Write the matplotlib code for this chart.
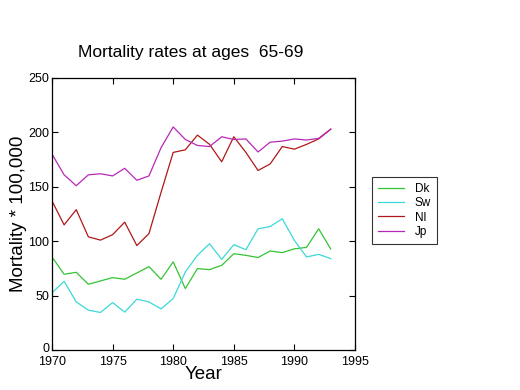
import numpy as np
import matplotlib
matplotlib.use("Agg")
import matplotlib.pyplot as plt
import matplotlib.transforms as mtransforms

plt.rcParams['font.family'] = ['Liberation Sans', 'DejaVu Sans']

# Mortality per 100,000, ages 65-69
years = list(range(1970, 1994))
dk = [85.5, 69.6, 71.4, 60.4, 63.5, 66.5, 65, 70.8, 76.6, 65, 81, 56.5,
      74.8, 73.9, 77.8, 88.5, 87, 85, 91, 89.5, 93, 94.3, 111.4, 92.8]
sw = [52.5, 63.2, 44.2, 36.6, 34.5, 43.6, 34.8, 46.7, 44.2, 37.8, 47.3, 71.7,
      87, 97.7, 83.3, 96.8, 92.2, 111.4, 113.5, 120.6, 100.7, 85.5, 87.9, 84]
nl = [137, 115, 129, 104, 101, 106, 117.5, 96, 107, 145, 181.6, 184,
      197.5, 189, 173, 196, 181.6, 165, 171, 187, 184.6, 189, 194, 203]
jp = [180, 161, 151, 161, 162, 160, 167, 156, 160, 186, 205, 193.5,
      188, 187, 196, 193.5, 194, 182, 191, 192, 194, 193, 194.5, 203]

labels = ['Dk', 'Sw', 'Nl', 'Jp']
colors = ['#33c433', '#3cd8d8', '#b01818', '#b828b8']

fig = plt.figure(figsize=(5.2, 3.9), dpi=100)
ax = fig.add_axes([52 / 520, 40 / 390, 303 / 520, 272 / 390])

for vals, lab, col in zip([dk, sw, nl, jp], labels, colors):
    ax.plot(years, vals, color=col, lw=0.9, label=lab)

ax.set_xlim(1970, 1995)
ax.set_ylim(0, 250)
ax.set_xticks(np.arange(1970, 1996, 5))
ax.set_yticks(np.arange(0, 251, 50))
ax.tick_params(direction='in', top=True, right=True, length=4, width=0.8,
               labelsize=9, pad=2)
ax.tick_params(axis='x', pad=4)
for s in ax.spines.values():
    s.set_linewidth(0.9)

# nudge the "0" label up a little so it clears "1970"
fig.canvas.draw()
zero = ax.get_yticklabels()[0]
zero.set_transform(zero.get_transform() +
                   mtransforms.ScaledTranslation(0, 3 / 100, fig.dpi_scale_trans))

fig.text(191 / 520, 1 - 52 / 390, 'Mortality rates at ages  65-69',
         ha='center', va='center', fontsize=12.5)
ax.set_xlabel('Year', fontsize=13.5, labelpad=-1)
ax.set_ylabel('Mortality * 100,000', fontsize=13.5, labelpad=1)

leg = ax.legend(loc='upper left', bbox_to_anchor=(372 / 520, 1 - 177 / 390),
                bbox_transform=fig.transFigure, fontsize=8.5, frameon=True,
                fancybox=False, edgecolor='black', handlelength=2.2,
                borderpad=0.5, labelspacing=0.2, handletextpad=0.9,
                borderaxespad=0)
leg.get_frame().set_linewidth(0.8)

fig.savefig('out.png', dpi=100)
